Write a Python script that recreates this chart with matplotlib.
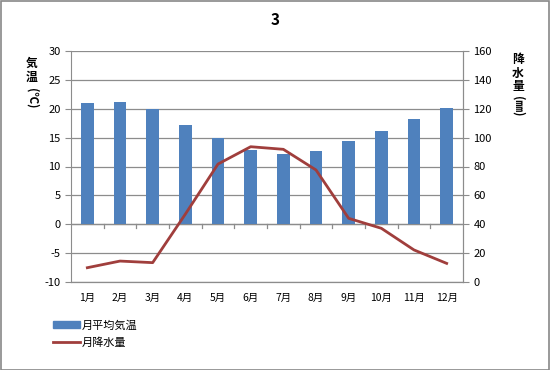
import matplotlib.pyplot as plt
from matplotlib.patches import Patch, Rectangle
from matplotlib.lines import Line2D
import numpy as np

plt.rcParams['font.family'] = ['Noto Sans CJK JP', 'DejaVu Sans']
plt.rcParams['axes.unicode_minus'] = False

months = ['1月', '2月', '3月', '4月', '5月', '6月', '7月', '8月', '9月', '10月', '11月', '12月']
temp = [21.0, 21.1, 19.9, 17.2, 15.0, 12.8, 12.1, 12.6, 14.4, 16.2, 18.3, 20.1]
rain = [9.9, 14.5, 13.4, 47.0, 81.7, 93.7, 91.9, 77.6, 44.1, 37.2, 22.2, 12.9]

bar_color = '#4F81BD'
line_color = '#A03E3C'
grid_color = '#8c8c8c'

fig = plt.figure(figsize=(5.5, 3.7), dpi=100)
fig.patches.append(Rectangle((0.001, 0.001), 0.997, 0.996, transform=fig.transFigure,
                             fill=False, edgecolor='#888888', linewidth=1.2))
ax = fig.add_axes([71 / 550, 1 - 282 / 370, 392 / 550, 231 / 370])
x = np.arange(len(months))

ax.set_axisbelow(True)
ax.grid(axis='y', color=grid_color, linewidth=0.9)
ax.bar(x, temp, width=0.39, color=bar_color, zorder=2)
ax.set_xlim(-0.5, 11.5)
ax.set_ylim(-10, 30)
ax.set_yticks(range(-10, 31, 5))
ax.set_xticks(x)
ax.set_xticklabels(months)
ax.tick_params(axis='x', length=0, pad=8, labelsize=7.5)
ax.tick_params(axis='y', length=4, color=grid_color, labelsize=8)
ax.axhline(0, color=grid_color, linewidth=0.9, zorder=1)
for s in ['top', 'bottom']:
    ax.spines[s].set_visible(False)
ax.spines['left'].set_color(grid_color)
ax.spines['right'].set_color(grid_color)
# category separators hang below the zero line
for xm in np.arange(0.5, 11, 1):
    ax.plot([xm, xm], [0, -0.7], color=grid_color, linewidth=0.9, zorder=1, clip_on=False)
ax.plot([-0.5, 11.5], [-10, -10], color=grid_color, linewidth=0.9, clip_on=False)

ax2 = ax.twinx()
ax2.plot(x, rain, color=line_color, linewidth=2.0, zorder=3)
ax2.set_ylim(0, 160)
ax2.set_yticks(range(0, 161, 20))
ax2.tick_params(axis='y', length=4, color=grid_color, labelsize=8)
for s in ['top', 'bottom', 'left']:
    ax2.spines[s].set_visible(False)
ax2.spines['right'].set_color(grid_color)

fig.text(275 / 550, 1 - 20 / 370, '3', ha='center', va='center', fontsize=11, fontweight='bold')

fig.text(32 / 550, 1 - 57 / 370, '気\n温', ha='center', va='top', fontsize=8.5,
         fontweight='bold', linespacing=1.05)
fig.text(32 / 550, 1 - 88 / 370, '(℃)', ha='center', va='top', fontsize=8.5,
         fontweight='bold', rotation=-90)
fig.text(518 / 550, 1 - 53 / 370, '降\n水\n量', ha='center', va='top', fontsize=8.5,
         fontweight='bold', linespacing=1.05)
fig.text(518 / 550, 1 - 96 / 370, '(㎜)', ha='center', va='top', fontsize=8.5,
         fontweight='bold', rotation=-90)

handles = [Patch(facecolor=bar_color, edgecolor=bar_color),
           Line2D([0], [0], color=line_color, linewidth=2.0)]
fig.legend(handles, ['月平均気温', '月降水量'], loc='upper left',
           bbox_to_anchor=(43 / 550, 1 - 310 / 370), frameon=False, fontsize=8,
           handlelength=2.4, handleheight=0.5, labelspacing=0.6, handletextpad=0.2)

fig.savefig('out.png', dpi=100)
